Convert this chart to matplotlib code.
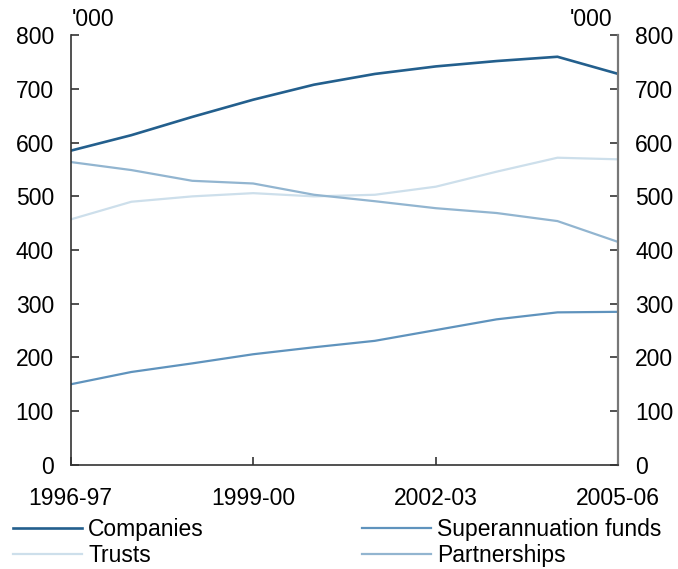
import matplotlib
matplotlib.use('Agg')
import matplotlib.pyplot as plt

plt.rcParams['font.family'] = ['Liberation Sans', 'DejaVu Sans']

years = ['1996-97', '1997-98', '1998-99', '1999-00', '2000-01',
         '2001-02', '2002-03', '2003-04', '2004-05', '2005-06']
companies = [585, 614, 648, 680, 708, 728, 742, 752, 760, 728]
superannuation = [150, 173, 189, 206, 219, 231, 251, 271, 284, 285]
trusts = [457, 490, 500, 506, 500, 503, 518, 546, 572, 569]
partnerships = [564, 549, 529, 524, 503, 491, 478, 469, 454, 415]

tick_years = ['1996-97', '1999-00', '2002-03', '2005-06']

FS = 16.5

fig = plt.figure(figsize=(6.78, 5.69), dpi=100)
ax = fig.add_axes([0.104, 0.183, 0.808, 0.755])

x = list(range(len(years)))
l1, = ax.plot(x, companies, color='#235f8d', lw=1.9, label='Companies')
l2, = ax.plot(x, superannuation, color='#5f93bd', lw=1.6, label='Superannuation funds')
l3, = ax.plot(x, trusts, color='#cddfeb', lw=1.6, label='Trusts')
l4, = ax.plot(x, partnerships, color='#92b5d0', lw=1.6, label='Partnerships')

ax.set_xlim(0, len(years) - 1)
ax.set_ylim(0, 800)
ax.set_yticks(range(0, 801, 100))
ax.set_xticks([years.index(t) for t in tick_years])
ax.set_xticklabels(tick_years)

ax.spines['top'].set_visible(False)
for s in ['left', 'bottom']:
    ax.spines[s].set_color('#333333')
    ax.spines[s].set_linewidth(1.2)
ax.spines['right'].set_color('#777777')
ax.spines['right'].set_linewidth(1.6)

ax.tick_params(axis='y', direction='in', length=6, width=1.2, colors='#333333',
               labelcolor='black', labelsize=FS, pad=12, right=True, labelright=True)
ax.tick_params(axis='x', direction='in', length=6, width=1.2, colors='#333333',
               labelcolor='black', labelsize=FS, pad=16)

fig.text(0.106, 0.966, "'000", fontsize=FS, ha='left', va='center')
fig.text(0.903, 0.966, "'000", fontsize=FS, ha='right', va='center')

fig.legend([l1, l3, l2, l4],
           ['Companies', 'Trusts', 'Superannuation funds', 'Partnerships'],
           ncol=2, loc='upper left', bbox_to_anchor=(0.019, 0.090),
           frameon=False, fontsize=FS, handlelength=3.0, handletextpad=0.28,
           columnspacing=6.9, labelspacing=0.12, borderaxespad=0, borderpad=0)

fig.savefig('out.png', dpi=100)
